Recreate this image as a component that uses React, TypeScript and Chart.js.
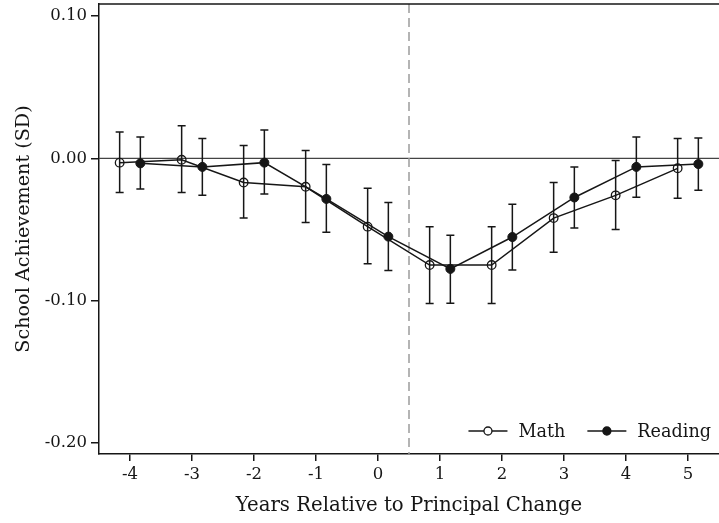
import React, { useEffect, useRef } from "react";
import { Chart, registerables } from "chart.js";

Chart.register(...registerables);

// Event-study estimates by year relative to the principal change
const years = [-4, -3, -2, -1, 0, 1, 2, 3, 4, 5];

const mathEst = [-0.003, -0.001, -0.017, -0.020, -0.048, -0.075, -0.075, -0.042, -0.026, -0.007];
const mathLo = [-0.024, -0.024, -0.042, -0.045, -0.074, -0.102, -0.102, -0.066, -0.050, -0.028];
const mathHi = [0.0185, 0.023, 0.009, 0.0055, -0.021, -0.048, -0.048, -0.017, -0.0015, 0.014];

const readEst = [-0.0035, -0.006, -0.003, -0.0285, -0.055, -0.0777, -0.0553, -0.0275, -0.006, -0.004];
const readLo = [-0.0216, -0.026, -0.025, -0.052, -0.0788, -0.1018, -0.0785, -0.049, -0.0274, -0.0225];
const readHi = [0.015, 0.014, 0.020, -0.0044, -0.031, -0.054, -0.0322, -0.006, 0.015, 0.0143];

const yTicks = [0.1, 0, -0.1, -0.2];
const xRange = [-4.5, 5.5];
const yRange = [-0.2078, 0.1085];

// Math sits slightly left of each year, Reading slightly right
const seriesOffset = 0.167;
const changeLine = 0.5;

const FONT = '"DejaVu Serif", "Liberation Serif", serif';
const INK = "#161616";

const build = (est: number[], lo: number[], hi: number[], shift: number) =>
  years.map((yr, i) => ({ x: yr + shift, y: est[i], lo: lo[i], hi: hi[i] }));

// keep the plot region flush with the layout padding
const noScalePadding = (scale: any) => {
  scale.paddingTop = 0;
  scale.paddingBottom = 0;
  scale.paddingLeft = 0;
  scale.paddingRight = 0;
};

const referenceLines = {
  id: "referenceLines",
  beforeDatasetsDraw(chart: any) {
    const { ctx, chartArea: a, scales } = chart;
    const y0 = scales.y.getPixelForValue(0);
    const xc = scales.x.getPixelForValue(changeLine);
    ctx.save();
    ctx.strokeStyle = "#444";
    ctx.lineWidth = 1.2;
    ctx.beginPath();
    ctx.moveTo(a.left, y0);
    ctx.lineTo(a.right, y0);
    ctx.stroke();
    ctx.strokeStyle = "#9c9c9c";
    ctx.lineWidth = 1.5;
    ctx.setLineDash([9, 5]);
    ctx.beginPath();
    ctx.moveTo(xc, a.top);
    ctx.lineTo(xc, a.bottom);
    ctx.stroke();
    ctx.setLineDash([]);
    // top frame of the plot region
    ctx.strokeStyle = INK;
    ctx.lineWidth = 1.5;
    ctx.beginPath();
    ctx.moveTo(a.left, a.top);
    ctx.lineTo(a.right, a.top);
    ctx.stroke();
    ctx.restore();
  },
};

const errorBars = {
  id: "errorBars",
  beforeDatasetsDraw(chart: any) {
    const { ctx, scales } = chart;
    ctx.save();
    ctx.strokeStyle = INK;
    ctx.lineWidth = 1.5;
    chart.data.datasets.forEach((ds: any) => {
      ds.data.forEach((p: any) => {
        const px = scales.x.getPixelForValue(p.x);
        const top = scales.y.getPixelForValue(p.hi);
        const bot = scales.y.getPixelForValue(p.lo);
        ctx.beginPath();
        ctx.moveTo(px, top);
        ctx.lineTo(px, bot);
        ctx.moveTo(px - 4, top);
        ctx.lineTo(px + 4, top);
        ctx.moveTo(px - 4, bot);
        ctx.lineTo(px + 4, bot);
        ctx.stroke();
      });
    });
    ctx.restore();
  },
};

// Legend row in the lower-right corner of the plot region
const insideLegend = {
  id: "insideLegend",
  afterDraw(chart: any) {
    const { ctx, chartArea: a } = chart;
    const items = chart.data.datasets.map((ds: any) => ({
      label: ds.label as string,
      solid: ds.pointBackgroundColor === INK,
      textX: 0,
      lineX: 0,
    }));
    ctx.save();
    ctx.font = `17.6px ${FONT}`;
    ctx.textBaseline = "middle";
    ctx.textAlign = "left";
    const cy = a.bottom - 23;
    const lineLen = 39;
    const gapText = 11;
    const gapItem = 22;
    let x = a.right - 8;
    for (let i = items.length - 1; i >= 0; i--) {
      x -= ctx.measureText(items[i].label).width;
      items[i].textX = x;
      x -= gapText + lineLen;
      items[i].lineX = x;
      x -= gapItem;
    }
    items.forEach((it: any) => {
      ctx.strokeStyle = INK;
      ctx.lineWidth = 1.5;
      ctx.beginPath();
      ctx.moveTo(it.lineX, cy);
      ctx.lineTo(it.lineX + lineLen, cy);
      ctx.stroke();
      ctx.beginPath();
      ctx.arc(it.lineX + lineLen / 2, cy, 4, 0, Math.PI * 2);
      ctx.fillStyle = it.solid ? INK : "#fff";
      ctx.fill();
      ctx.lineWidth = 1.3;
      ctx.stroke();
      ctx.fillStyle = INK;
      ctx.fillText(it.label, it.textX, cy + 1);
    });
    ctx.restore();
  },
};

export default function App() {
  const canvasRef = useRef<HTMLCanvasElement | null>(null);

  useEffect(() => {
    if (!canvasRef.current) return;
    const chart = new Chart(canvasRef.current, {
      type: "line",
      data: {
        datasets: [
          {
            label: "Math",
            data: build(mathEst, mathLo, mathHi, -seriesOffset),
            borderColor: INK,
            borderWidth: 1.5,
            tension: 0,
            pointStyle: "circle",
            pointRadius: 4.3,
            pointBorderWidth: 1.3,
            pointBorderColor: INK,
            pointBackgroundColor: "rgba(0,0,0,0)",
          },
          {
            label: "Reading",
            data: build(readEst, readLo, readHi, seriesOffset),
            borderColor: INK,
            borderWidth: 1.5,
            tension: 0,
            pointStyle: "circle",
            pointRadius: 4.5,
            pointBorderWidth: 1,
            pointBorderColor: INK,
            pointBackgroundColor: INK,
          },
        ],
      },
      options: {
        responsive: false,
        animation: false,
        layout: { autoPadding: false, padding: { left: 0, top: 4, right: 0, bottom: 0 } },
        plugins: {
          legend: { display: false },
          tooltip: { enabled: false },
        },
        scales: {
          x: {
            type: "linear",
            min: xRange[0],
            max: xRange[1],
            afterBuildTicks: (scale: any) => {
              scale.ticks = years.map((v) => ({ value: v }));
            },
            afterFit: (scale: any) => {
              scale.height = 69;
              noScalePadding(scale);
            },
            border: { color: INK, width: 1.5 },
            grid: { drawOnChartArea: false, color: INK, lineWidth: 1.5, tickLength: 7 },
            ticks: {
              color: INK,
              font: { family: FONT, size: 16.5 },
              padding: 4,
              maxRotation: 0,
              callback: (v: any) => String(v),
            },
            title: {
              display: true,
              text: "Years Relative to Principal Change",
              color: INK,
              font: { family: FONT, size: 19.7 },
              padding: { top: 0, bottom: 5 },
            },
          },
          y: {
            type: "linear",
            min: yRange[0],
            max: yRange[1],
            afterBuildTicks: (scale: any) => {
              scale.ticks = yTicks.map((v) => ({ value: v }));
            },
            afterFit: (scale: any) => {
              scale.width = 99;
              noScalePadding(scale);
            },
            border: { color: INK, width: 1.5 },
            grid: { drawOnChartArea: false, color: INK, lineWidth: 1.5, tickLength: 8 },
            ticks: {
              color: INK,
              font: { family: FONT, size: 16.5 },
              padding: 4,
              callback: (v: any) => Number(v).toFixed(2),
            },
            title: {
              display: true,
              text: "School Achievement (SD)",
              color: INK,
              font: { family: FONT, size: 19.2 },
              padding: { top: 12, bottom: 0 },
            },
          },
        },
      },
      plugins: [referenceLines, errorBars, insideLegend],
    });
    return () => chart.destroy();
  }, []);

  return (
    <div style={{ position: "absolute", left: 0, top: 0, width: 719, height: 523, background: "#fff" }}>
      <canvas ref={canvasRef} width={719} height={523} style={{ display: "block" }} />
    </div>
  );
}
